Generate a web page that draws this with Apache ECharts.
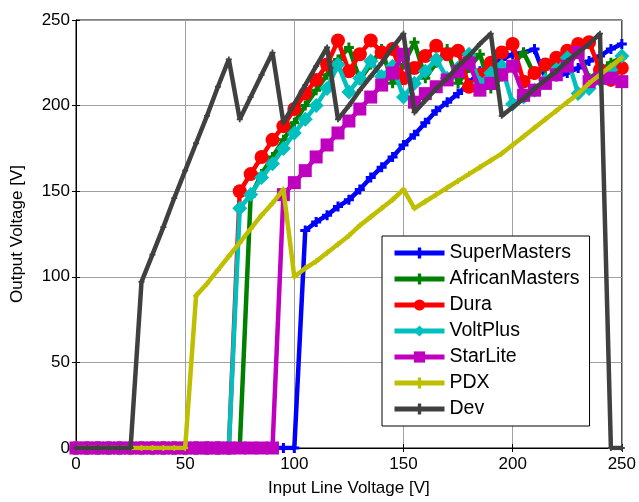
<!DOCTYPE html>
<html>
<head>
<meta charset="utf-8">
<script src="https://cdn.jsdelivr.net/npm/echarts@6/dist/echarts.min.js"></script>
<style>html,body{margin:0;padding:0;background:#fff;}#c{width:639px;height:502px;}</style>
</head>
<body>
<div id="c"></div>
<script>
// Input line voltage [V], 0..250 step 5
const inputV = [0,5,10,15,20,25,30,35,40,45,50,55,60,65,70,75,80,85,90,95,100,105,110,115,120,125,130,135,140,145,150,155,160,165,170,175,180,185,190,195,200,205,210,215,220,225,230,235,240,245,250];
const xTicks = [0,50,100,150,200,250];
const yTicks = [0,50,100,150,200,250];
const seriesNames = ['SuperMasters','AfricanMasters','Dura','VoltPlus','StarLite','PDX','Dev'];

const superMasters = [0,0,0,0,0,0,0,0,0,0,0,0,0,0,0,0,0,0,0,0,0,127,132,136,141,145,151,158,164,170,177,183,190,197,202,207,213,220,223,227,230,231,233,216,217,219,222,226,229,233,236];
const africanMasters = [0,0,0,0,0,0,0,0,0,0,0,0,0,0,0,0,147,160,170,180,190,200,209,218,227,234,215,224,233,213,224,237,216,225,233,213,222,230,210,217,224,231,218,222,226,229,232,216,220,225,228];
const dura = [0,0,0,0,0,0,0,0,0,0,0,0,0,0,0,150,160,170,180,188,198,207,215,224,238,220,230,238,231,233,216,222,229,235,230,232,211,218,225,231,236,214,219,224,228,232,236,237,221,215,222];
const voltPlus = [0,0,0,0,0,0,0,0,0,0,0,0,0,0,0,140,148,158,166,175,184,192,200,210,224,208,216,226,217,223,205,213,220,227,216,222,230,213,219,223,201,205,209,215,221,228,207,210,215,221,229];
const starLite = [0,0,0,0,0,0,0,0,0,0,0,0,0,0,0,0,0,0,0,148,155,162,170,177,184,191,198,205,212,219,230,202,207,211,215,220,225,209,213,218,223,206,209,213,218,223,231,214,216,216,214];
const pdx = [0,0,0,0,0,0,0,0,0,0,0,89,96,104,112,120,128,136,143,151,100,105,109,114,119,124,130,135,140,145,151,140,144,148,152,156,160,164,168,172,177,182,187,192,197,202,207,213,218,223,228];
const dev = [0,0,0,0,0,0,97,113,129,146,162,178,194,211,227,192,205,218,231,190,201,212,223,234,192,200,209,217,225,234,242,196,203,210,216,223,229,236,242,194,199,204,210,215,220,226,231,236,242,0,0];

const plusPath = 'path://M3.5,0H6.5V3.5H10V6.5H6.5V10H3.5V6.5H0V3.5H3.5Z';
const colors = ['#0000ff','#008000','#ff0000','#00bfbf','#bf00bf','#bfbf00','#404040'];
const symbols = [plusPath, plusPath, 'circle', 'diamond', 'rect', plusPath, plusPath];
const symSizes = [10, 10, 14, 15, 13, 6, 6];
const allData = [superMasters, africanMasters, dura, voltPlus, starLite, pdx, dev];

const font = 'Arial, "Liberation Sans", sans-serif';

const series = seriesNames.map((n, i) => ({
  name: n,
  type: 'line',
  data: inputV.map((x, k) => [x, allData[i][k]]),
  symbol: symbols[i],
  symbolSize: symSizes[i],
  showAllSymbol: true,
  lineStyle: { color: colors[i], width: 4.5 },
  itemStyle: { color: colors[i], borderColor: colors[i], borderWidth: 0 },
  emphasis: { disabled: true },
  animation: false,
  z: 2 + i
}));

const chart = echarts.init(document.getElementById('c'), null, { renderer: 'canvas' });
chart.setOption({
  animation: false,
  backgroundColor: '#ffffff',
  grid: { left: 76, right: 17, top: 20, bottom: 52, show: true, borderColor: '#000', borderWidth: 1, backgroundColor: 'transparent' },
  legend: {
    data: seriesNames,
    orient: 'vertical',
    left: 382, top: 236,
    padding: [7, 10, 7, 10],
    itemGap: 6,
    itemWidth: 50,
    itemHeight: 14,
    backgroundColor: '#ffffff',
    borderColor: '#000000',
    borderWidth: 1,
    lineStyle: { width: 5 },
    textStyle: { fontFamily: font, fontSize: 19.5, color: '#000', lineHeight: 18 }
  },
  xAxis: [{
    type: 'value', min: 0, max: 250, interval: 50,
    name: 'Input Line Voltage [V]', nameLocation: 'middle', nameGap: 32,
    nameTextStyle: { fontFamily: font, fontSize: 17, color: '#000' },
    axisLine: { show: true, onZero: false, lineStyle: { color: '#000', width: 1 } },
    axisTick: { show: true, inside: true, length: 4, lineStyle: { color: '#000' } },
    axisLabel: { fontFamily: font, fontSize: 17, color: '#000', margin: 8, formatter: v => xTicks.includes(v) ? String(v) : '' },
    splitLine: { show: true, lineStyle: { color: '#a0a0a0', width: 1 } }
  }, {
    type: 'value', min: 0, max: 250, interval: 50, position: 'top',
    axisLine: { show: true, lineStyle: { color: '#000' } },
    axisTick: { show: true, inside: true, length: 4, lineStyle: { color: '#000' } },
    axisLabel: { show: false }, splitLine: { show: false }
  }],
  yAxis: [{
    type: 'value', min: 0, max: 250, interval: 50,
    name: 'Output Voltage [V]', nameLocation: 'middle', nameGap: 50,
    nameTextStyle: { fontFamily: font, fontSize: 17, color: '#000' },
    axisLine: { show: true, onZero: false, lineStyle: { color: '#000', width: 1 } },
    axisTick: { show: true, inside: true, length: 4, lineStyle: { color: '#000' } },
    axisLabel: { fontFamily: font, fontSize: 17, color: '#000', margin: 6, formatter: v => yTicks.includes(v) ? String(v) : '' },
    splitLine: { show: true, lineStyle: { color: '#a0a0a0', width: 1 } }
  }, {
    type: 'value', min: 0, max: 250, interval: 50, position: 'right',
    axisLine: { show: true, lineStyle: { color: '#000' } },
    axisTick: { show: true, inside: true, length: 4, lineStyle: { color: '#000' } },
    axisLabel: { show: false }, splitLine: { show: false }
  }],
  series: series
});
</script>
</body>
</html>
